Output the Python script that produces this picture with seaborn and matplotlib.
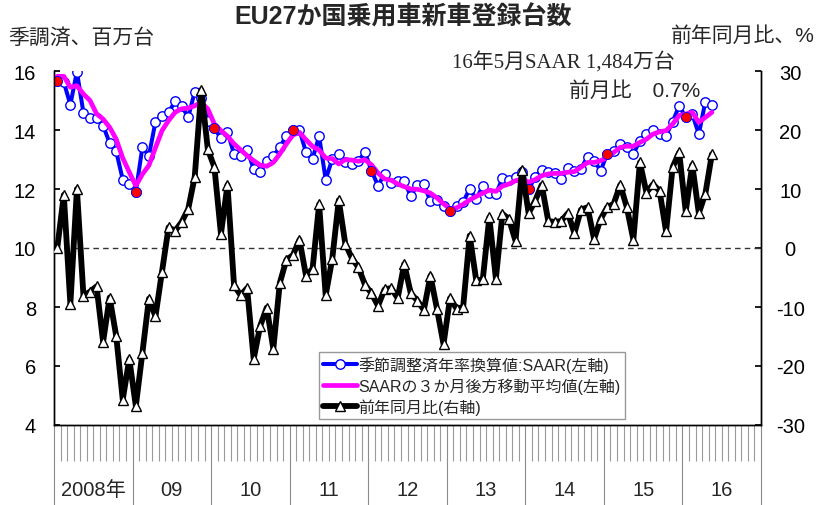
import matplotlib

matplotlib.use("Agg")

import matplotlib.pyplot as plt
import numpy as np
import pandas as pd
import seaborn as sns

sns.set_theme(style="white")
plt.rcParams["font.family"] = ["Liberation Sans", "Noto Sans CJK JP"]
plt.rcParams["axes.unicode_minus"] = False

# Monthly values, Jan 2008 - May 2016
saar = [
    15.66, 15.62, 14.86, 15.98, 14.58, 14.42, 14.40, 14.15, 13.56, 13.28, 12.32, 12.17,
    11.91, 13.41, 13.13, 14.28, 14.46, 14.60, 14.97, 14.82, 14.43, 15.30, 15.07, 14.30,
    14.06, 13.72, 13.94, 13.19, 13.11, 13.33, 12.68, 12.56, 12.96, 13.11, 13.41, 13.81,
    14.00, 14.00, 13.24, 13.03, 13.79, 12.32, 13.01, 13.19, 12.90, 12.86, 12.96, 13.24,
    12.62, 12.11, 12.52, 12.20, 12.26, 12.28, 11.75, 12.15, 12.17, 11.58, 11.64, 11.41,
    11.24, 11.42, 11.55, 12.01, 11.65, 12.10, 11.87, 11.83, 12.36, 12.30, 12.40, 12.57,
    11.99, 12.41, 12.65, 12.57, 12.55, 12.35, 12.70, 12.62, 12.69, 13.09, 12.96, 12.62,
    13.19, 13.30, 13.53, 13.41, 13.19, 13.64, 13.86, 14.01, 13.86, 13.81, 14.28, 14.82,
    14.43, 14.54, 13.86, 14.96, 14.84,
]
saar_ma3 = [
    15.82, 15.82, 15.45, 15.50, 15.22, 15.00, 14.55, 14.37, 14.09, 13.69, 13.05, 12.57,
    12.11, 12.50, 12.80, 13.40, 13.98, 14.32, 14.60, 14.72, 14.74, 14.82, 14.94, 14.71,
    14.20, 13.98, 13.79, 13.53, 13.33, 13.13, 12.96, 12.81, 12.77, 12.90, 13.19, 13.53,
    13.83, 13.92, 13.67, 13.44, 13.32, 13.05, 13.03, 12.85, 13.00, 12.98, 12.94, 12.99,
    12.82, 12.54, 12.34, 12.30, 12.17, 12.08, 12.00, 11.99, 11.94, 11.86, 11.70, 11.50,
    11.33, 11.36, 11.48, 11.63, 11.75, 11.86, 11.96, 11.92, 12.10, 12.17, 12.28, 12.34,
    12.23, 12.32, 12.45, 12.51, 12.53, 12.53, 12.57, 12.59, 12.74, 12.90, 12.90, 12.96,
    13.07, 13.24, 13.41, 13.45, 13.45, 13.58, 13.69, 13.86, 13.94, 13.98, 14.20, 14.49,
    14.54, 14.60, 14.26, 14.43, 14.60,
]
yoy = [
    0.0, 9.0, -9.5, 10.0, -8.1, -7.4, -6.5, -15.9, -8.4, -14.9, -25.7, -18.8,
    -26.8, -17.8, -8.6, -11.6, -4.0, 3.5, 2.9, 4.4, 6.6, 12.1, 26.8, 16.7,
    13.7, 2.4, 10.7, -6.3, -8.0, -6.8, -18.8, -13.2, -10.1, -17.1, -5.9, -2.0,
    -1.2, 1.4, -4.7, -3.5, 7.4, -8.0, -1.9, 8.1, 0.7, -1.7, -3.3, -6.2,
    -7.7, -9.8, -7.0, -6.8, -8.5, -2.7, -7.7, -8.9, -10.5, -4.7, -10.3, -16.3,
    -8.5, -10.3, -10.0, 2.1, -5.5, -5.3, 5.2, -5.2, 5.8, 4.9, 1.2, 13.3,
    5.9, 8.0, 10.7, 4.6, 4.4, 4.6, 5.9, 2.5, 6.5, 6.9, 1.5, 4.9,
    6.9, 7.5, 10.7, 6.9, 1.4, 14.5, 9.4, 10.8, 9.7, 2.8, 13.7, 16.2,
    6.2, 14.1, 5.9, 9.2, 15.9,
]
year_labels = ["2008年", "09", "10", "11", "12", "13", "14", "15", "16"]

df = pd.DataFrame({
    "month": pd.date_range("2008-01-01", periods=len(saar), freq="MS"),
    "saar": saar,
    "ma3": saar_ma3,
    "yoy": yoy,
})
df["pos"] = np.arange(len(df))
jan = df[df["month"].dt.month == 1]

fig = plt.figure(figsize=(8.19, 5.06), dpi=100)
ax = fig.add_axes([54 / 819, 80 / 506, 707 / 819, 354 / 506])
ax2 = ax.twinx()

# left axis: SAAR and its moving average
sns.lineplot(data=df, x="pos", y="saar", ax=ax, color="#0000ff", linewidth=2.9,
             marker="o", markersize=6.8, markerfacecolor="white",
             markeredgecolor="#0000ff", markeredgewidth=1.0, zorder=2)
saar_line = ax.lines[-1]
sns.lineplot(data=df, x="pos", y="ma3", ax=ax, color="#ff00ff", linewidth=3.4, zorder=3)
ma_line = ax.lines[-1]
sns.scatterplot(data=jan, x="pos", y="saar", ax=ax, color="red", s=52,
                edgecolor="#0000ff", linewidth=0.6, zorder=4)

# right axis: year-over-year change
ax2.axhline(0, color="#333333", linewidth=1, linestyle=(0, (4, 3)), zorder=1)
sns.lineplot(data=df, x="pos", y="yoy", ax=ax2, color="black", linewidth=4.2,
             marker="^", markersize=7.2, markerfacecolor="white",
             markeredgecolor="black", markeredgewidth=1.0, zorder=3)
yoy_line = ax2.lines[-1]

ax.set_xlim(-0.5, 107.5)
ax.set_ylim(4, 16)
ax.set_yticks(range(4, 17, 2))
ax2.set_ylim(-30, 30)
ax2.set_yticks(range(-30, 31, 10))
ax.set_xlabel("")
ax.set_ylabel("")
ax2.set_ylabel("")

for a in (ax, ax2):
    a.spines["top"].set_visible(False)
    for s in ("left", "right", "bottom"):
        a.spines[s].set_color("black")
        a.spines[s].set_linewidth(1.0)
    a.grid(False)

ax.tick_params(axis="y", left=True, direction="in", length=4, labelsize=14.5, pad=13, colors="black")
ax2.tick_params(axis="y", right=True, direction="in", length=4, labelsize=14.5, pad=21, colors="black")
for lab in ax2.get_yticklabels():
    lab.set_horizontalalignment("center")

# month tick band and year separators
ax.set_xticks([-0.499 + 12 * k for k in range(9)] + [107.499])
ax.set_xticks([i + 0.5 for i in range(107)], minor=True)
ax.set_xticklabels([])
ax.tick_params(axis="x", which="major", bottom=True, direction="out", length=58,
               width=0.8, color="#8c8c8c")
ax.tick_params(axis="x", which="minor", bottom=True, direction="out", length=26,
               width=0.8, color="#9a9a9a")
for k, lab in enumerate(year_labels):
    ax.text(12 * k + 5.5, -0.181, lab, transform=ax.get_xaxis_transform(),
            ha="center", va="center", fontsize=14.5)

ax2.legend(
    [saar_line, ma_line, yoy_line],
    ["季節調整済年率換算値:SAAR(左軸)", "SAARの３か月後方移動平均値(左軸)", "前年同月比(右軸)"],
    loc="upper left", bbox_to_anchor=(0.375, 0.206), borderaxespad=0,
    fontsize=11.5, frameon=True, fancybox=False, edgecolor="#999999", framealpha=1,
    borderpad=0.25, labelspacing=0.28, handlelength=2.1, handletextpad=0.1, numpoints=1,
)

fig.text(0.492, 0.966, "EU27か国乗用車新車登録台数", ha="center", va="center",
         fontsize=18, fontweight="bold")
fig.text(8 / 819, 1 - 38 / 506, "季調済、百万台", ha="left", va="center", fontsize=15)
fig.text(815 / 819, 1 - 36 / 506, "前年同月比、%", ha="right", va="center", fontsize=15)
fig.text(452 / 819, 1 - 63 / 506, "16年5月SAAR 1,484万台", ha="left", va="center",
         fontsize=15, family=["Liberation Serif", "Noto Sans CJK JP"])
fig.text(700 / 819, 1 - 91 / 506, "前月比　0.7%", ha="right", va="center", fontsize=15)

fig.savefig("out.png", dpi=100, facecolor="white")
plt.close(fig)
